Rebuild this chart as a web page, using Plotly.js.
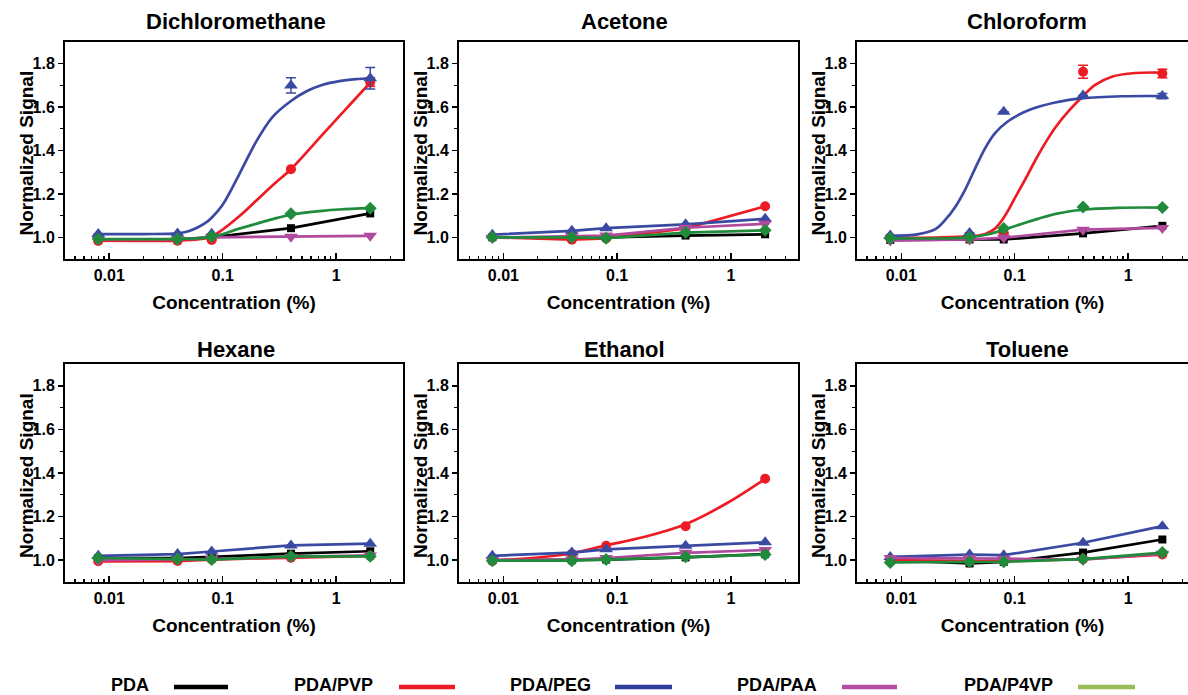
<!DOCTYPE html>
<html>
<head>
<meta charset="utf-8">
<script src="https://cdn.plot.ly/plotly-3.0.1.min.js"></script>
<style>html,body{margin:0;padding:0;background:#fff;}#chart{width:1188px;height:695px;}</style>
</head>
<body>
<div id="chart"></div>
<script>
// ---------------- DATA ----------------
const conc = [0.008, 0.04, 0.08, 0.4, 2];
const seriesNames = ['PDA', 'PDA/PVP', 'PDA/PEG', 'PDA/PAA', 'PDA/P4VP'];
const seriesColors = ['#000000', '#ed1c24', '#3a4aa3', '#b04a9e', '#1f8b3b'];
const legendColors = ['#000000', '#ed1c24', '#2e3f9a', '#b44fa0', '#9bbb59'];
const seriesSymbols = ['square', 'circle', 'triangle-up', 'triangle-down', 'diamond'];
const solvents = ['Dichloromethane', 'Acetone', 'Chloroform', 'Hexane', 'Ethanol', 'Toluene'];
const xTickVals = [0.01, 0.1, 1];
const xTickText = ['0.01', '0.1', '1'];
const xMinorVals = [0.005, 0.006, 0.007, 0.008, 0.009, 0.02, 0.03, 0.04, 0.05, 0.06, 0.07, 0.08, 0.09, 0.2, 0.3, 0.4, 0.5, 0.6, 0.7, 0.8, 0.9, 2, 3];
const yTickVals = [1.0, 1.2, 1.4, 1.6, 1.8];
const yTickText = ['1.0', '1.2', '1.4', '1.6', '1.8'];
const yMinorVals = [1.1, 1.3, 1.5, 1.7];
const xTitle = 'Concentration (%)';
const yTitle = 'Normalized Signal';

// Dichloromethane
const dcmPDA  = [0.990, 0.990, 1.000, 1.042, 1.110];
const dcmPVP  = [0.983, 0.984, 0.988, 1.314, 1.715];
const dcmPEG  = [1.015, 1.017, 1.016, 1.700, 1.733];
const dcmPAA  = [0.990, 0.990, 1.000, 1.002, 1.007];
const dcmP4VP = [0.992, 0.992, 1.004, 1.108, 1.134];
const dcmErrPVP = [0, 0, 0, 0, 0.020];
const dcmErrPEG = [0, 0, 0, 0.035, 0.050];
const dcmFitPVPx  = [0.008, 0.04, 0.06, 0.08, 0.1, 0.14, 0.197, 0.276, 0.4, 0.544, 0.762, 1.07, 1.5, 2];
const dcmFitPVPy  = [0.984, 0.985, 0.990, 1.003, 1.036, 1.097, 1.168, 1.240, 1.314, 1.389, 1.474, 1.558, 1.642, 1.713];
const dcmFitPEGx  = [0.008, 0.02, 0.04, 0.05, 0.06, 0.07, 0.08, 0.1, 0.14, 0.197, 0.276, 0.4, 0.544, 0.762, 1.07, 1.5, 2];
const dcmFitPEGy  = [1.015, 1.015, 1.018, 1.028, 1.045, 1.065, 1.090, 1.150, 1.290, 1.440, 1.555, 1.628, 1.672, 1.703, 1.720, 1.729, 1.733];
const dcmFitP4VPx = [0.008, 0.04, 0.08, 0.14, 0.197, 0.276, 0.4, 0.762, 1.07, 2];
const dcmFitP4VPy = [0.992, 0.993, 1.002, 1.040, 1.062, 1.084, 1.104, 1.122, 1.128, 1.134];

// Acetone
const acePDA  = [1.000, 1.000, 1.000, 1.008, 1.014];
const acePVP  = [1.000, 0.989, 0.995, 1.041, 1.143];
const acePEG  = [1.012, 1.030, 1.042, 1.060, 1.085];
const acePAA  = [0.998, 1.005, 1.008, 1.044, 1.062];
const aceP4VP = [1.000, 1.000, 0.996, 1.022, 1.032];

// Chloroform
const chlPDA  = [0.988, 0.990, 0.990, 1.018, 1.053];
const chlPVP  = [0.999, 0.995, 1.019, 1.763, 1.755];
const chlPEG  = [1.008, 1.020, 1.578, 1.653, 1.651];
const chlPAA  = [0.985, 0.990, 0.998, 1.035, 1.043];
const chlP4VP = [0.996, 1.000, 1.040, 1.140, 1.137];
const chlErrPVP = [0, 0, 0, 0.030, 0.020];
const chlErrPEG = [0, 0, 0, 0, 0.012];
const chlFitPVPx  = [0.008, 0.02, 0.039, 0.055, 0.067, 0.082, 0.101, 0.124, 0.152, 0.186, 0.228, 0.298, 0.39, 0.512, 0.717, 1.15, 1.95];
const chlFitPVPy  = [0.998, 0.999, 1.004, 1.015, 1.040, 1.099, 1.184, 1.268, 1.355, 1.435, 1.506, 1.581, 1.645, 1.702, 1.740, 1.757, 1.759];
const chlFitPEGx  = [0.008, 0.0142, 0.02, 0.0244, 0.0299, 0.0366, 0.0448, 0.0548, 0.0671, 0.0879, 0.132, 0.227, 0.39, 0.877, 1.95];
const chlFitPEGy  = [1.007, 1.015, 1.038, 1.080, 1.140, 1.220, 1.318, 1.410, 1.480, 1.536, 1.585, 1.621, 1.640, 1.650, 1.651];
const chlFitP4VPx = [0.008, 0.04, 0.06, 0.08, 0.12, 0.16, 0.23, 0.4, 0.8, 2];
const chlFitP4VPy = [0.995, 1.000, 1.015, 1.035, 1.065, 1.085, 1.108, 1.127, 1.136, 1.137];

// Hexane
const hexPDA  = [1.010, 1.010, 1.015, 1.030, 1.041];
const hexPVP  = [0.995, 0.996, 1.003, 1.011, 1.020];
const hexPEG  = [1.020, 1.028, 1.040, 1.068, 1.076];
const hexPAA  = [1.000, 1.003, 1.005, 1.015, 1.022];
const hexP4VP = [1.010, 1.005, 1.003, 1.018, 1.018];

// Ethanol
const ethPDA  = [1.000, 1.000, 1.003, 1.013, 1.028];
const ethPVP  = [0.996, 1.029, 1.066, 1.156, 1.374];
const ethPEG  = [1.020, 1.035, 1.050, 1.066, 1.082];
const ethPAA  = [1.000, 1.003, 1.010, 1.034, 1.047];
const ethP4VP = [0.998, 0.998, 1.003, 1.016, 1.026];
const ethFitPVPx = [0.008, 0.02, 0.04, 0.08, 0.168, 0.4, 0.912, 2.01];
const ethFitPVPy = [0.998, 1.012, 1.032, 1.068, 1.105, 1.165, 1.260, 1.374];

// Toluene
const tolPDA  = [1.000, 0.985, 0.992, 1.035, 1.095];
const tolPVP  = [1.000, 0.995, 0.995, 1.005, 1.026];
const tolPEG  = [1.015, 1.026, 1.023, 1.080, 1.156];
const tolPAA  = [1.010, 1.010, 1.007, 1.002, 1.030];
const tolP4VP = [0.990, 0.993, 0.993, 1.005, 1.035];

// ---------------- BUILD ----------------
const panels = [
  {vals: [dcmPDA, dcmPVP, dcmPEG, dcmPAA, dcmP4VP], err: [null, dcmErrPVP, dcmErrPEG, null, null],
   fits: [null, [dcmFitPVPx, dcmFitPVPy], [dcmFitPEGx, dcmFitPEGy], null, [dcmFitP4VPx, dcmFitP4VPy]]},
  {vals: [acePDA, acePVP, acePEG, acePAA, aceP4VP], err: [null, null, null, null, null], fits: [null, null, null, null, null]},
  {vals: [chlPDA, chlPVP, chlPEG, chlPAA, chlP4VP], err: [null, chlErrPVP, chlErrPEG, null, null],
   fits: [null, [chlFitPVPx, chlFitPVPy], [chlFitPEGx, chlFitPEGy], null, [chlFitP4VPx, chlFitP4VPy]]},
  {vals: [hexPDA, hexPVP, hexPEG, hexPAA, hexP4VP], err: [null, null, null, null, null], fits: [null, null, null, null, null]},
  {vals: [ethPDA, ethPVP, ethPEG, ethPAA, ethP4VP], err: [null, null, null, null, null], fits: [null, [ethFitPVPx, ethFitPVPy], null, null, null]},
  {vals: [tolPDA, tolPVP, tolPEG, tolPAA, tolP4VP], err: [null, null, null, null, null], fits: [null, null, null, null, null]}
];

const W = 1188, H = 695;
const colPx = [[65, 403], [459, 798], [857, 1188]];
const rowPx = [[42, 259], [364, 582]];
const titleCenterX = [236, 624, 1027];
const titleY = [22, 349];
const yTitleX = [26, 420, 818];
const xRanges = [[-2.39, 0.59], [-2.39, 0.59], [-2.39, 0.527]];
const markerSizes = [8, 10, 12, 12, 10];

const traces = [];
const layout = {
  width: W, height: H,
  margin: {l: 0, r: 0, t: 0, b: 0},
  paper_bgcolor: '#ffffff', plot_bgcolor: '#ffffff',
  showlegend: false,
  font: {family: 'Liberation Sans, Arial, sans-serif', color: '#000'},
  annotations: [], shapes: []
};

panels.forEach((p, i) => {
  const r = Math.floor(i / 3), c = i % 3;
  const n = i + 1;
  const xa = 'x' + (n === 1 ? '' : n), ya = 'y' + (n === 1 ? '' : n);
  const xkey = 'xaxis' + (n === 1 ? '' : n), ykey = 'yaxis' + (n === 1 ? '' : n);
  layout[xkey] = {
    type: 'log', range: xRanges[c], anchor: ya,
    domain: [colPx[c][0] / W, colPx[c][1] / W],
    tickmode: 'array', tickvals: xTickVals, ticktext: xTickText,
    ticks: 'inside', ticklen: 6, tickwidth: 1.5, tickcolor: '#000',
    minor: {tickmode: 'array', tickvals: xMinorVals, ticks: 'inside', ticklen: 3, tickwidth: 1.2, tickcolor: '#000'},
    showline: true, mirror: true, linewidth: 2, linecolor: '#000',
    showgrid: false, zeroline: false, ticklabelstandoff: 1,
    tickfont: {size: 16, weight: 'bold', color: '#000'},
    title: {text: xTitle, font: {size: 19, weight: 'bold', color: '#000'}, standoff: 12},
    fixedrange: true
  };
  layout[ykey] = {
    range: [0.9, 1.9], anchor: xa,
    domain: [1 - rowPx[r][1] / H, 1 - rowPx[r][0] / H],
    tickmode: 'array', tickvals: yTickVals, ticktext: yTickText,
    ticks: 'outside', ticklen: 5, tickwidth: 1.5, tickcolor: '#000',
    minor: {tickmode: 'array', tickvals: yMinorVals, ticks: 'outside', ticklen: 3, tickwidth: 1.2, tickcolor: '#000'},
    showline: true, mirror: true, linewidth: 2, linecolor: '#000',
    showgrid: false, zeroline: false,
    tickfont: {size: 16, weight: 'bold', color: '#000'},
    fixedrange: true
  };
  layout.annotations.push({
    text: solvents[i], xref: 'paper', yref: 'paper',
    x: titleCenterX[c] / W, y: 1 - titleY[r] / H,
    xanchor: 'center', yanchor: 'middle', showarrow: false,
    font: {size: 22, weight: 'bold', color: '#000'}
  });
  layout.annotations.push({
    text: yTitle, xref: 'paper', yref: 'paper', textangle: -90,
    x: yTitleX[c] / W, y: 1 - ((rowPx[r][0] + rowPx[r][1]) / 2 + 3) / H,
    xanchor: 'center', yanchor: 'middle', showarrow: false,
    font: {size: 19, weight: 'bold', color: '#000'}
  });

  p.vals.forEach((v, s) => {
    const fit = p.fits[s];
    const err = p.err[s];
    if (fit) {
      traces.push({
        x: fit[0], y: fit[1], xaxis: xa, yaxis: ya, mode: 'lines', type: 'scatter',
        line: {color: seriesColors[s], width: 2.7, shape: 'spline', smoothing: 1},
        hoverinfo: 'skip', name: seriesNames[s]
      });
    }
    const tr = {
      x: conc, y: v, xaxis: xa, yaxis: ya, type: 'scatter',
      mode: fit ? 'markers' : 'lines+markers',
      name: seriesNames[s],
      line: {color: seriesColors[s], width: 2.7},
      marker: {symbol: seriesSymbols[s], size: markerSizes[s], color: seriesColors[s]}
    };
    if (err) tr.error_y = {type: 'data', array: err, visible: true, color: seriesColors[s], thickness: 1.5, width: 5};
    traces.push(tr);
  });
});

// Legend (text followed by line sample)
const legTextRight = [151, 375, 593, 819, 1055];
const legLine = [[174, 228], [399, 455], [615, 672], [842, 897], [1078, 1135]];
seriesNames.forEach((nm, s) => {
  layout.annotations.push({
    text: nm, xref: 'paper', yref: 'paper', x: legTextRight[s] / W, y: 1 - 685 / H,
    xanchor: 'right', yanchor: 'middle', showarrow: false,
    font: {size: 18, weight: 'bold', color: '#000'}
  });
  layout.shapes.push({
    type: 'line', xref: 'paper', yref: 'paper',
    x0: legLine[s][0] / W, x1: legLine[s][1] / W, y0: 1 - 687 / H, y1: 1 - 687 / H,
    line: {color: legendColors[s], width: 4.5}
  });
});

Plotly.newPlot('chart', traces, layout, {staticPlot: true, displayModeBar: false});
</script>
</body>
</html>
